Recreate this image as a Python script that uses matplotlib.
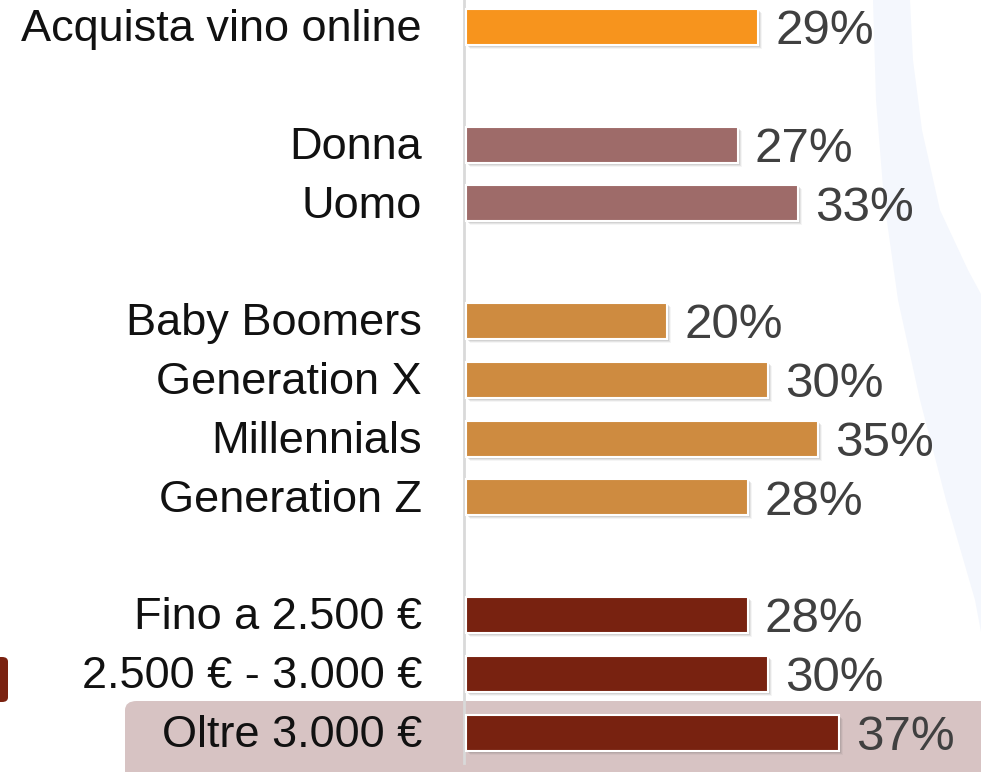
import matplotlib.pyplot as plt
import matplotlib.patches as mpatches

# Data
labels = ["Acquista vino online", "Donna", "Uomo",
          "Baby Boomers", "Generation X", "Millennials", "Generation Z",
          "Fino a 2.500 €", "2.500 € - 3.000 €", "Oltre 3.000 €"]
values = [29, 27, 33, 20, 30, 35, 28, 28, 30, 37]
rows = [0, 2, 3, 5, 6, 7, 8, 10, 11, 12]
colors = ["#F7941D", "#9E6B69", "#9E6B69",
          "#CE8B40", "#CE8B40", "#CE8B40", "#CE8B40",
          "#782210", "#782210", "#782210"]

W, H = 981, 772
px_per_pct = 10.07
x0_px = 466
row_px = 58.8
y0_px = 27

fig = plt.figure(figsize=(W / 100, H / 100), dpi=100)
ax = fig.add_axes([0, 0, 1, 1])
ax.set_xlim(-x0_px / px_per_pct, (W - x0_px) / px_per_pct)
ax.set_ylim((H - y0_px) / row_px, -y0_px / row_px)
ax.axis("off")

def fx(px):
    return px / W

def fy(py):
    return 1 - py / H

# faint blue background curve
left_edge = [(873, 0), (876, 100), (884, 200), (898, 300), (920, 400), (946, 500), (975, 600), (990, 680)]
right_edge = [(995, 320), (968, 270), (940, 210), (922, 130), (913, 60), (910, 0)]
band = [(fx(x), fy(y)) for x, y in left_edge + right_edge]
ax.add_patch(mpatches.Polygon(band, closed=True, facecolor="#F4F7FD", edgecolor="none",
                              transform=fig.transFigure, zorder=0, clip_on=False))

# highlight box behind last row
ax.add_patch(mpatches.FancyBboxPatch((fx(125), fy(790)), fx(900), (790 - 701) / H,
                                     boxstyle="round,pad=0,rounding_size=0.012",
                                     facecolor="#D7C3C3", edgecolor="none",
                                     transform=fig.transFigure, zorder=0.5, clip_on=False))

# small icon fragment at left edge
ax.add_patch(mpatches.FancyBboxPatch((fx(-10), fy(702)), fx(18), 45 / H,
                                     boxstyle="round,pad=0,rounding_size=0.006",
                                     facecolor="#7A2210", edgecolor="none",
                                     transform=fig.transFigure, zorder=1, clip_on=False))

# vertical axis line
ax.plot([-0.2, -0.2], [-y0_px / row_px, (763 - y0_px) / row_px], color="#D9D9D9", lw=2, zorder=1)

bar_h = 36 / row_px
# shadows
for k, a in [(1, 0.18), (2, 0.14), (3, 0.10), (4, 0.06)]:
    ax.barh([r + k / row_px for r in rows], values, left=k / px_per_pct, height=bar_h,
            color="#555555", alpha=a, edgecolor="none", zorder=2)

ax.barh(rows, values, height=bar_h, color=colors, edgecolor="white", linewidth=1.5, zorder=3)

for r, v, lab in zip(rows, values, labels):
    ax.text(-44 / px_per_pct, r + 0.05, lab, ha="right", va="center", fontsize=32.5,
            family="Liberation Sans", color="#111111", zorder=4)
    ax.text(v + 17 / px_per_pct, r + 0.08, f"{v}%", ha="left", va="center", fontsize=35.5,
            family="Liberation Sans", color="#404040", zorder=4)

fig.savefig("out.png", dpi=100)
